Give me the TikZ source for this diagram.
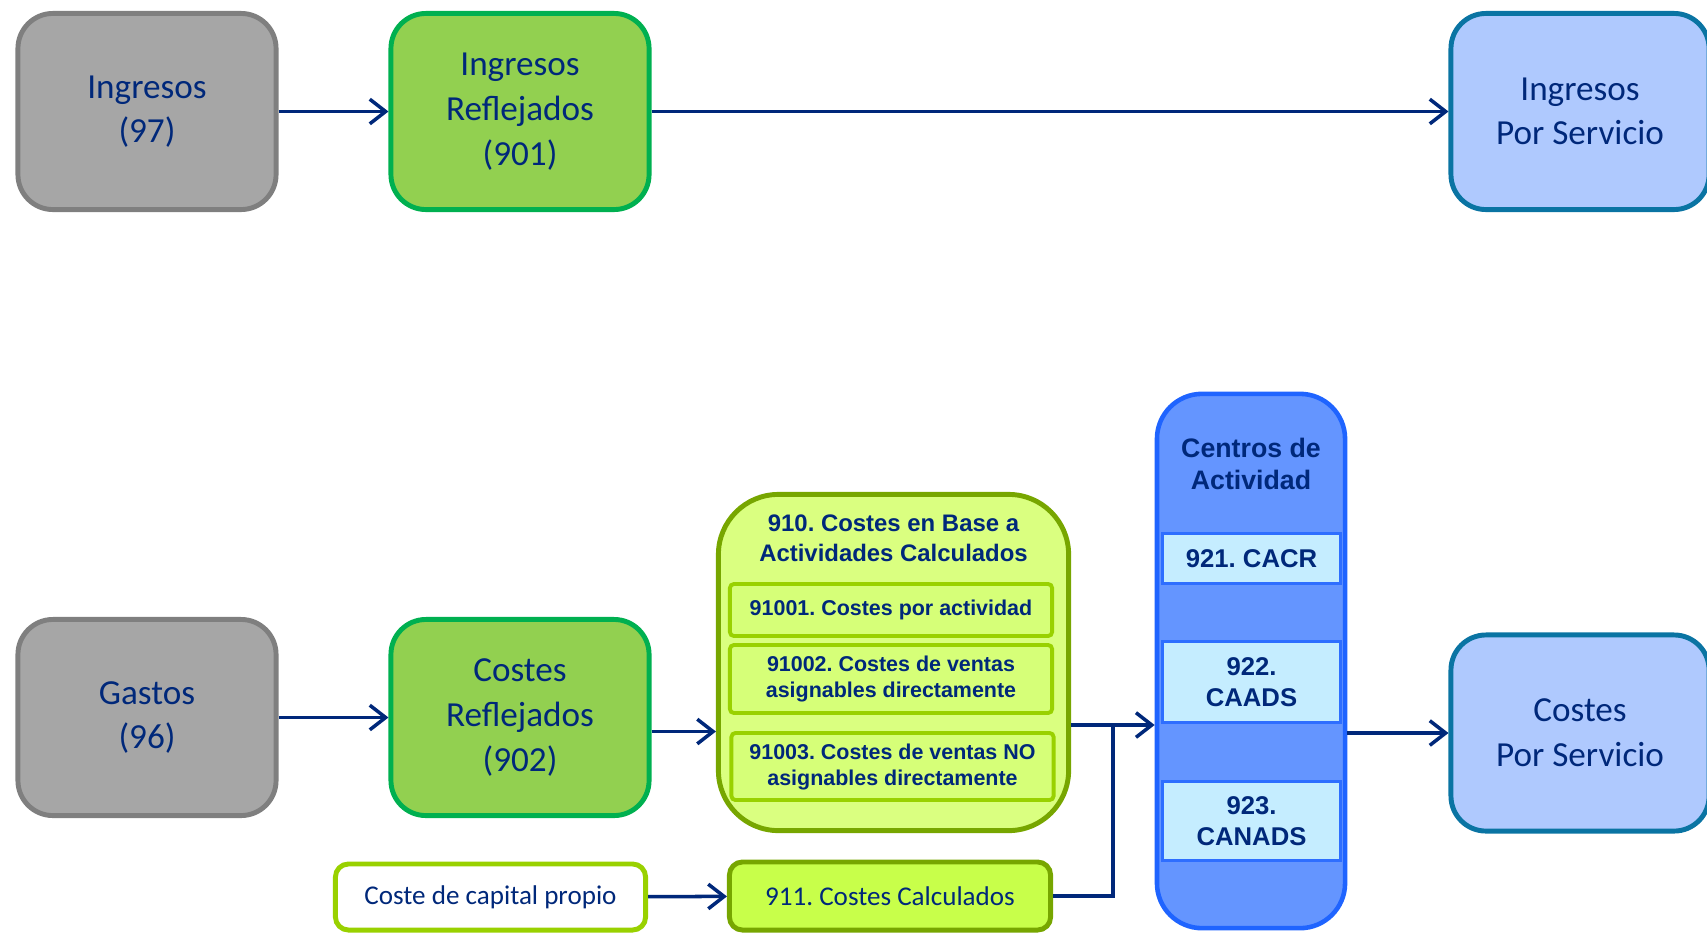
\documentclass[tikz,border=0pt]{standalone}
\usepackage{fontspec}
\setmainfont{Carlito}
\newfontfamily\arialfont{Liberation Sans}
\usepackage{tikz}
\usetikzlibrary{arrows.meta,positioning,calc}
\frenchspacing
\definecolor{navy}{HTML}{00287A}
\definecolor{grisfondo}{HTML}{A6A6A6}
\definecolor{grisborde}{HTML}{7F7F7F}
\definecolor{verdefondo}{HTML}{92D050}
\definecolor{verdeborde}{HTML}{00B050}
\definecolor{azulfondo}{HTML}{AFC9FE}
\definecolor{azulborde}{HTML}{0A74A3}
\definecolor{limafondo}{HTML}{DAFF80}
\definecolor{limaborde}{HTML}{77A600}
\definecolor{subfondo}{HTML}{D6FF78}
\definecolor{subborde}{HTML}{99D100}
\definecolor{calcfondo}{HTML}{C8FF4A}
\definecolor{centrofondo}{HTML}{6495FF}
\definecolor{centroborde}{HTML}{1F64FF}
\definecolor{celdafondo}{HTML}{C5EDFF}
\definecolor{celdaborde}{HTML}{2E6EFF}
\tikzset{
  cuentabox/.style={draw, rounded corners=3.5mm, line width=1.4pt, align=center, text=navy, font=\fontsize{10}{12.7}\selectfont, minimum width=2.58cm, minimum height=1.96cm, inner sep=0pt},
  grisbox/.style={cuentabox, draw=grisborde, fill=grisfondo},
  verdebox/.style={cuentabox, draw=verdeborde, fill=verdefondo},
  azulbox/.style={cuentabox, draw=azulborde, fill=azulfondo},
  grupobox/.style={draw=limaborde, fill=limafondo, rounded corners=6mm, line width=1.4pt, minimum width=3.5cm, minimum height=3.36cm},
  subbox/.style={draw=subborde, fill=subfondo, rounded corners=0.4mm, line width=1.1pt, align=center, text=navy, font=\arialfont\bfseries\fontsize{6.1}{7.4}\selectfont, minimum width=3.22cm, inner sep=0pt},
  calcbox/.style={draw=limaborde, fill=calcfondo, rounded corners=1.3mm, line width=1.4pt, text=navy, font=\fontsize{7.7}{9}\selectfont, minimum width=3.21cm, minimum height=0.68cm},
  propiobox/.style={draw=subborde, fill=white, rounded corners=1.3mm, line width=1.4pt, text=navy, font=\fontsize{7.7}{9}\selectfont, minimum width=3.1cm, minimum height=0.66cm},
  centrobox/.style={draw=centroborde, fill=centrofondo, rounded corners=4.5mm, line width=1.3pt, minimum width=1.88cm, minimum height=5.34cm},
  celdabox/.style={draw=celdaborde, fill=celdafondo, line width=1pt, align=center, text=navy, font=\arialfont\bfseries\fontsize{7.3}{8.9}\selectfont, minimum width=1.78cm, inner sep=0pt},
  titulo/.style={align=center, text=navy, font=\arialfont\bfseries\fontsize{6.8}{8.4}\selectfont},
  flujo/.style={-{Straight Barb[length=4.5pt,width=7pt]}, line width=1pt, draw=navy}
}
\begin{document}
\begin{tikzpicture}[x=0.01cm, y=-0.01cm]
  \useasboundingbox (0,0) rectangle (1707,933);

  % ingresos
  \node[grisbox] (ingr) at (147,111.5) {Ingresos\\(97)};
  \node[verdebox] (ingrref) at (520,111.5) {Ingresos\\Reflejados\\(901)};
  \node[azulbox] (ingrserv) at (1580,111.5) {Ingresos\\Por Servicio};

  % costes
  \node[grisbox] (gastos) at (147,717.5) {Gastos\\(96)};
  \node[verdebox] (costref) at (520,717.5) {Costes\\Reflejados\\(902)};
  \node[grupobox] (c910) at (893.5,662.5) {};
  \node[titulo] (t910) at (893.5,538) {910. Costes en Base a\\Actividades Calculados};
  \node[subbox, minimum height=0.52cm] (c91001) at (891,610) {91001. Costes por actividad};
  \node[subbox, minimum height=0.68cm] (c91002) at (891,679) {91002. Costes de ventas\\asignables directamente};
  \node[subbox, minimum height=0.67cm] (c91003) at (892.5,766.5) {91003. Costes de ventas NO\\asignables directamente};
  \node[propiobox] (capital) at (490.5,897) {Coste de capital propio};
  \node[calcbox] (c911) at (890,896) {911. Costes Calculados};

  \node[centrobox] (centros) at (1251,661) {};
  \node[titulo, font=\arialfont\bfseries\fontsize{7.6}{9.3}\selectfont] (tcentros) at (1251,464) {Centros de\\Actividad};
  \node[celdabox, minimum height=0.5cm] (c921) at (1251.5,558.5) {921. CACR};
  \node[celdabox, minimum height=0.81cm] (c922) at (1251.5,682) {922.\\CAADS};
  \node[celdabox, minimum height=0.79cm] (c923) at (1251.5,821) {923.\\CANADS};
  \node[azulbox] (costserv) at (1580,733) {Costes\\Por Servicio};

  \coordinate (union) at (1113,725);

  \draw[flujo] (ingr) -- (ingrref);
  \draw[flujo] (ingrref) -- (ingrserv);
  \draw[flujo] (gastos) -- (costref);
  \draw[flujo] ([yshift=-0.14cm]costref.east) -- ([yshift=-0.14cm]costref.east -| c910.west);
  \draw[flujo] (c910.east |- union) -- (union -| centros.west);
  \draw[line width=1pt, draw=navy] (c911.east) -| (union);
  \draw[flujo] (capital) -- (c911);
  \draw[flujo] (centros.east |- costserv) -- (costserv.west);
\end{tikzpicture}
\end{document}
